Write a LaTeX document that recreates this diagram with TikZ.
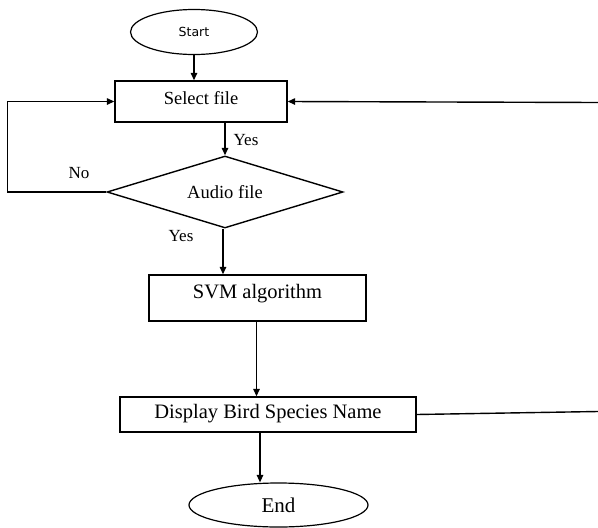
\documentclass[tikz,border=0pt]{standalone}
\usepackage{fontspec}
\setmainfont{Liberation Serif}
\newfontfamily\ovalfont{DejaVu Sans}
\usetikzlibrary{arrows.meta,shapes.geometric}
\tikzset{
	box/.style={draw, line width=1.4pt, rectangle, inner sep=0pt, font=\rmfamily\fontsize{18.5}{20}\selectfont},
	bigbox/.style={box, font=\rmfamily\fontsize{20.5}{22}\selectfont},
	oval/.style={draw, line width=1.2pt, ellipse, inner sep=0pt},
	decide/.style={draw, line width=1.4pt, diamond, aspect=3.28, inner sep=0pt, font=\rmfamily\fontsize{18.5}{20}\selectfont},
	flow/.style={line width=1.4pt, -{Triangle[length=7.5pt,width=6.5pt]}},
	wire/.style={line width=1.4pt},
	tag/.style={inner sep=0pt, font=\rmfamily\fontsize{17}{19}\selectfont}
}

\begin{document}
\begin{tikzpicture}[x=1pt, y=-1pt]
		%%%%% START %%%%%
		\useasboundingbox (0, 0) rectangle (598, 528);
		
		\node[oval, minimum width=127pt, minimum height=45pt, font=\ovalfont\fontsize{12.5}{14}\selectfont] (start) at (194, 32) {Start};
		\node[box, minimum width=172pt, minimum height=41pt, text height=13pt, text depth=8pt] (select) at (201, 101.5) {Select file};
		\node[decide, minimum width=236pt, minimum height=72pt] (audio) at (225, 192) {Audio file};
		\node[bigbox, minimum width=217pt, minimum height=46pt, text height=14pt, text depth=13pt] (svm) at (257.5, 298) {SVM algorithm};
		\node[bigbox, minimum width=296pt, minimum height=35pt, text height=14pt, text depth=6pt] (display) at (268, 414.5) {Display Bird Species Name};
		\node[oval, minimum width=179pt, minimum height=44pt, font=\rmfamily\fontsize{21}{23}\selectfont] (end) at (278.5, 505) {End};
		
		\coordinate (rtop) at (598, 102.5);
		\coordinate (rbot) at (598, 411.5);
		
		\draw[flow] (start.south) -- (start.south |- select.north);
		\draw[flow] (audio.north |- select.south) -- (audio.north);
		\node[tag] (yes1) at (246, 140) {Yes};
		
		\draw[flow] (audio.west) -- ++(-99, 0) |- (select.west);
		\node[tag] (no) at (79, 173) {No};
		\draw[flow] (rtop) -- (select.east);
		
		\draw[flow] ([xshift=-2pt]audio.south) -- ([xshift=-2pt]audio.south |- svm.north);
		\node[tag] (yes2) at (181, 236) {Yes};
		
		\draw[flow] ([xshift=-1pt]svm.south) -- ([xshift=-1pt]svm.south |- display.north);
		\draw[wire] (display.east) -- (rbot);
		\draw[flow] ([xshift=-8pt]display.south) -- ([xshift=-8pt]display.south |- end.north);
		
		%%%%% END %%%%%
	\end{tikzpicture}
\end{document}
